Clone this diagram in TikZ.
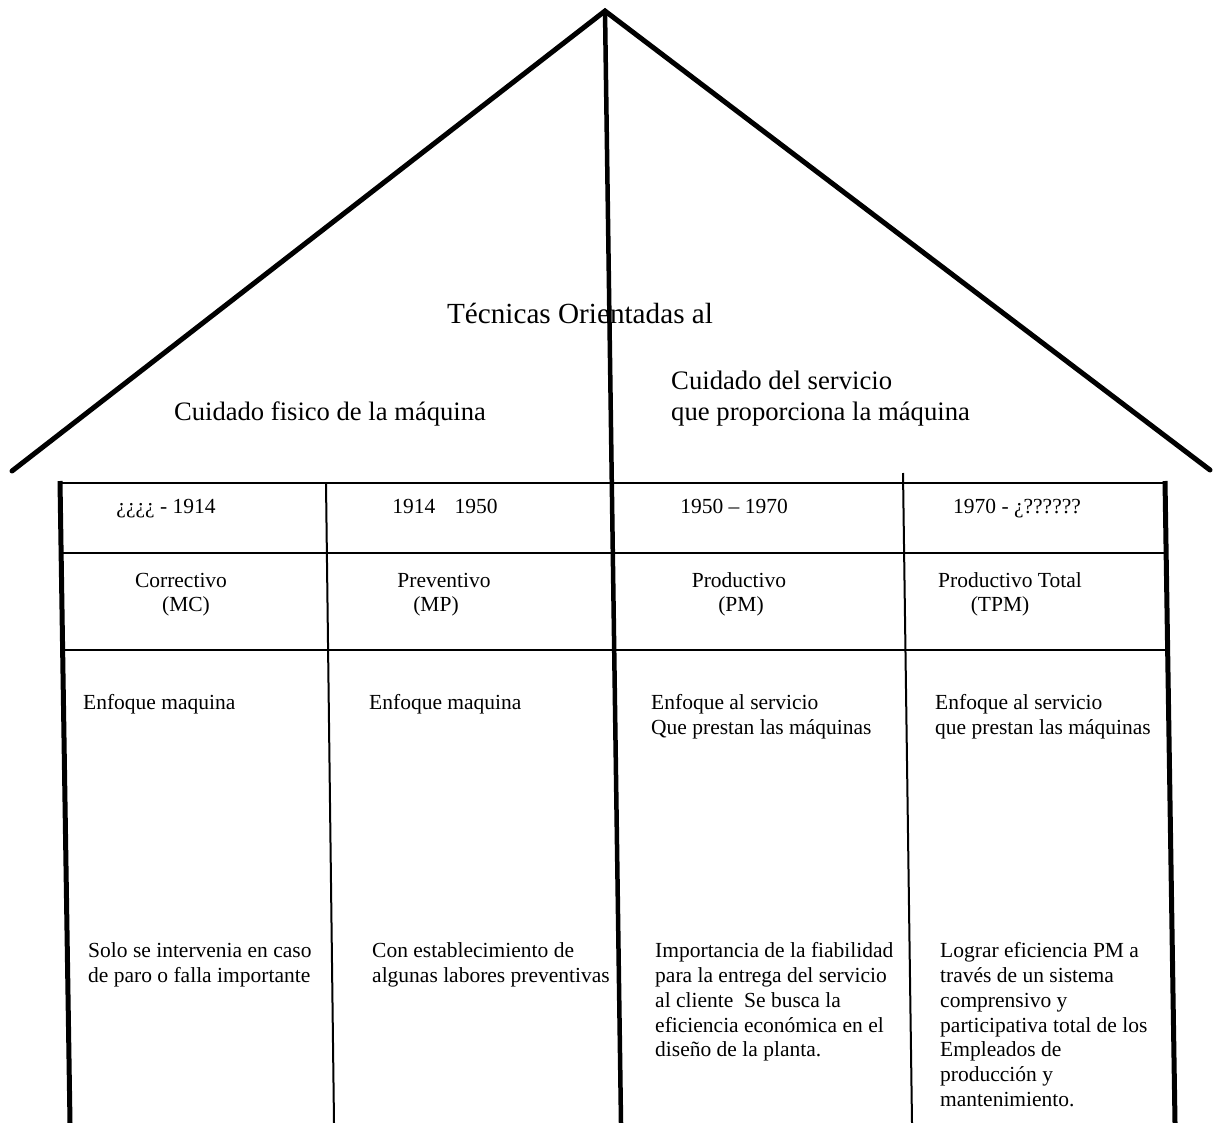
\documentclass[tikz,border=0pt]{standalone}
\usepackage{fontspec}
\setmainfont{Liberation Serif}
\begin{document}
\begin{tikzpicture}[x=1pt,y=-1pt,
  roof/.style={line width=5pt, line cap=round},
  axis/.style={line width=4.5pt},
  wall/.style={line width=5pt},
  divider/.style={line width=2pt},
  rowrule/.style={line width=1.8pt},
  big/.style={font=\fontsize{26.6}{31}\selectfont, inner sep=0pt, anchor=base},
  bigblock/.style={font=\fontsize{26.7}{31}\selectfont, inner sep=0pt, align=left, anchor=north west},
  head/.style={font=\fontsize{21.5}{24.5}\selectfont, inner sep=0pt, anchor=base},
  cell/.style={font=\fontsize{21.5}{24.8}\selectfont, inner sep=0pt, align=left, anchor=north west},
]
\useasboundingbox (0,0) rectangle (1214,1123);

% --- roof captions ---
\node[big, font=\fontsize{29.2}{33}\selectfont] (titulo) at (580,323) {Técnicas Orientadas al};
\node[big] (fisico) at (330,420) {Cuidado fisico de la máquina};
\node[bigblock] (servicio) at (671,370.6) {Cuidado del servicio\\que proporciona la máquina};

% --- row 1: periods ---
\node[head] (p1) at (166,513) {¿¿¿¿ - 1914};
\node[head] (p2) at (445,513) {1914\hspace{0.9em}1950};
\node[head] (p3) at (734,513) {1950 – 1970};
\node[head] (p4) at (1017,513) {1970 - ¿??????};

% --- row 2: maintenance types ---
\node[head] (t1) at (181,587) {Correctivo};
\node[head] (a1) at (186,611) {(MC)};
\node[head] (t2) at (444,587) {Preventivo};
\node[head] (a2) at (436,611) {(MP)};
\node[head] (t3) at (739,587) {Productivo};
\node[head] (a3) at (741,611) {(PM)};
\node[head] (t4) at (1010,587) {Productivo Total};
\node[head] (a4) at (1000,611) {(TPM)};

% --- row 3: focus ---
\node[cell] (f1) at (83,694.3) {Enfoque maquina};
\node[cell] (f2) at (369,694.3) {Enfoque maquina};
\node[cell] (f3) at (651,694.3) {Enfoque al servicio\\Que prestan las máquinas};
\node[cell] (f4) at (935,694.3) {Enfoque al servicio\\que prestan las máquinas};

% --- row 4: description ---
\node[cell] (d1) at (88,942.3) {Solo se intervenia en caso\\de paro o falla importante};
\node[cell] (d2) at (372,942.3) {Con establecimiento de\\algunas labores preventivas};
\node[cell] (d3) at (655,942.3) {Importancia de la fiabilidad\\para la entrega del servicio\\al cliente\hspace{0.5em}Se busca la\\eficiencia económica en el\\diseño de la planta.};
\node[cell] (d4) at (940,942.3) {Lograr eficiencia PM a\\través de un sistema\\comprensivo y\\participativa total de los\\Empleados de\\producción y\\mantenimiento.};

% --- roof and central axis ---
\coordinate (apex) at (605,11);
\coordinate (eaveL) at (12,471);
\coordinate (eaveR) at (1210,470);
\coordinate (axisB) at (621,1123);
\draw[roof] (eaveL) -- (apex) -- (eaveR);
\draw[axis] (apex) -- (axisB);

% --- table frame ---
\coordinate (tl) at (60,481);
\coordinate (bl) at (70,1123);
\coordinate (tr) at (1165,481);
\coordinate (br) at (1175,1123);
\draw[wall] (tl) -- (bl);
\draw[wall] (tr) -- (br);
\draw[divider] (326,483) -- (334,1123);
\draw[divider] (903,473) -- (912,1123);
\draw[rowrule] (60,483) -- (1165,483);
\draw[rowrule] (61,553) -- (1166,553);
\draw[rowrule] (62,650) -- (1167,650);
\end{tikzpicture}
\end{document}
